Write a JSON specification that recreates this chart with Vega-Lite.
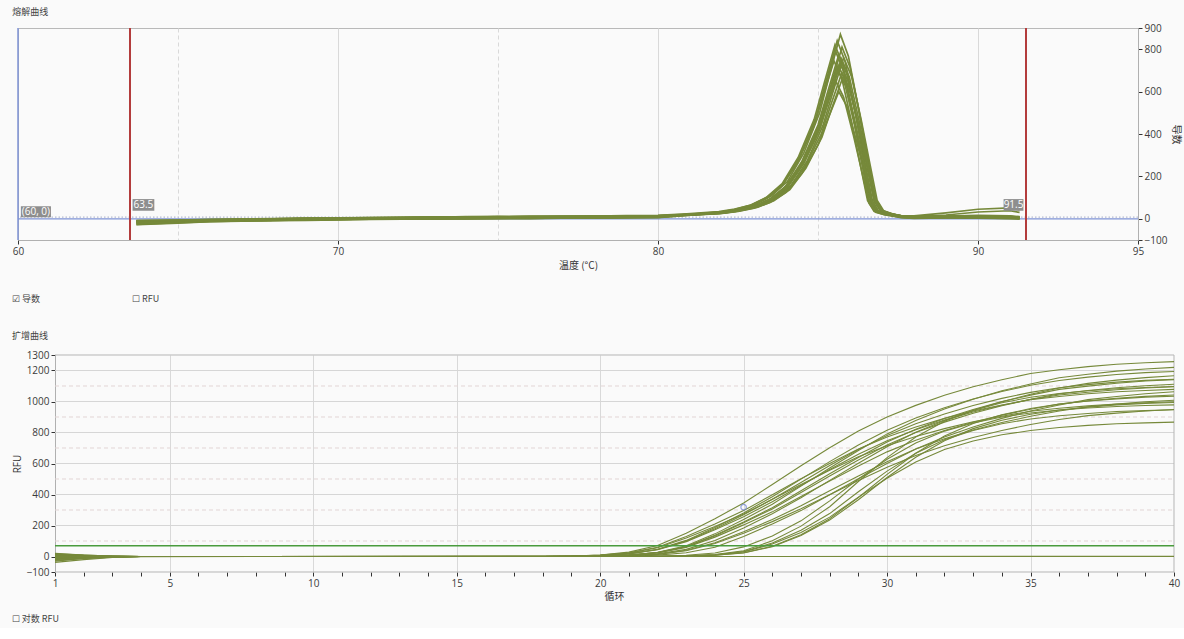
{
 "$schema": "https://vega.github.io/schema/vega-lite/v6.json",
 "background": "#fafafa",
 "padding": {"left": 11, "top": 7, "right": 2, "bottom": 4},
 "config": {
  "view": {"stroke": "#b9b9b9", "strokeWidth": 1},
  "axis": {"labelFont": "Open Sans", "labelFontSize": 10, "labelColor": "#3a3a3a", "titleFont": "Noto Sans CJK SC", "titleFontSize": 10, "titleFontWeight": "normal", "titleColor": "#333333", "domainColor": "#b0b0b0", "tickColor": "#333333", "tickSize": 4, "labelPadding": 2, "labelFlush": false, "labelOverlap": false, "gridColor": "#d9d9d9"},
  "title": {"font": "Noto Sans CJK SC", "fontSize": 9, "fontWeight": "normal", "color": "#444444", "subtitleFont": "Noto Sans CJK SC", "subtitleFontSize": 9, "subtitleColor": "#444444"}
 },
 "datasets": {
  "melt": [
   {"s":"a","t":63.7,"d":-10},{"s":"a","t":65,"d":-7},{"s":"a","t":66,"d":-4},{"s":"a","t":67,"d":-3},{"s":"a","t":68,"d":0},{"s":"a","t":69,"d":2},{"s":"a","t":70,"d":3},{"s":"a","t":71,"d":6},{"s":"a","t":72,"d":5},{"s":"a","t":73,"d":8},{"s":"a","t":74,"d":7},{"s":"a","t":75,"d":10},{"s":"a","t":76,"d":9},{"s":"a","t":77,"d":11},{"s":"a","t":78,"d":12},{"s":"a","t":79,"d":13},{"s":"a","t":80,"d":15},
   {"s":"a","t":81.05,"d":22},{"s":"a","t":82.05,"d":34},{"s":"a","t":82.55,"d":47},{"s":"a","t":83.05,"d":69},{"s":"a","t":83.55,"d":108},{"s":"a","t":84.05,"d":177},{"s":"a","t":84.55,"d":308},{"s":"a","t":85.05,"d":499},{"s":"a","t":85.35,"d":673},{"s":"a","t":85.7,"d":870},{"s":"a","t":85.95,"d":767},{"s":"a","t":86.25,"d":532},{"s":"a","t":86.55,"d":271},{"s":"a","t":86.75,"d":97},{"s":"a","t":86.95,"d":42},{"s":"a","t":87.25,"d":25},
   {"s":"a","t":87.6,"d":14},{"s":"a","t":88,"d":10},{"s":"a","t":89,"d":12},{"s":"a","t":90,"d":14},{"s":"a","t":91,"d":11},{"s":"a","t":91.3,"d":8},

   {"s":"b","t":63.7,"d":-22},{"s":"b","t":65,"d":-15},{"s":"b","t":66,"d":-11},{"s":"b","t":67,"d":-9},{"s":"b","t":68,"d":-7},{"s":"b","t":69,"d":-4},{"s":"b","t":70,"d":-3},{"s":"b","t":71,"d":-1},{"s":"b","t":72,"d":1},{"s":"b","t":73,"d":0},{"s":"b","t":74,"d":3},{"s":"b","t":75,"d":2},{"s":"b","t":76,"d":4},{"s":"b","t":77,"d":5},{"s":"b","t":78,"d":4},{"s":"b","t":79,"d":7},{"s":"b","t":80,"d":8},
   {"s":"b","t":80.95,"d":20},{"s":"b","t":81.95,"d":31},{"s":"b","t":82.45,"d":44},{"s":"b","t":82.95,"d":65},{"s":"b","t":83.45,"d":102},{"s":"b","t":83.95,"d":170},{"s":"b","t":84.45,"d":296},{"s":"b","t":84.95,"d":480},{"s":"b","t":85.25,"d":648},{"s":"b","t":85.6,"d":840},{"s":"b","t":85.85,"d":741},{"s":"b","t":86.15,"d":514},{"s":"b","t":86.45,"d":262},{"s":"b","t":86.65,"d":94},{"s":"b","t":86.85,"d":39},{"s":"b","t":87.15,"d":23},
   {"s":"b","t":87.6,"d":8},{"s":"b","t":88,"d":5},{"s":"b","t":89,"d":7},{"s":"b","t":90,"d":6},{"s":"b","t":91,"d":4},{"s":"b","t":91.3,"d":2},

   {"s":"c","t":63.7,"d":-15},{"s":"c","t":65,"d":-12},{"s":"c","t":66,"d":-7},{"s":"c","t":67,"d":-6},{"s":"c","t":68,"d":-5},{"s":"c","t":69,"d":-1},{"s":"c","t":70,"d":1},{"s":"c","t":71,"d":2},{"s":"c","t":72,"d":4},{"s":"c","t":73,"d":4},{"s":"c","t":74,"d":6},{"s":"c","t":75,"d":5},{"s":"c","t":76,"d":8},{"s":"c","t":77,"d":7},{"s":"c","t":78,"d":9},{"s":"c","t":79,"d":8},{"s":"c","t":80,"d":11},
   {"s":"c","t":81.1,"d":21},{"s":"c","t":82.1,"d":31},{"s":"c","t":82.6,"d":43},{"s":"c","t":83.1,"d":64},{"s":"c","t":83.6,"d":100},{"s":"c","t":84.1,"d":165},{"s":"c","t":84.6,"d":286},{"s":"c","t":85.1,"d":465},{"s":"c","t":85.4,"d":627},{"s":"c","t":85.75,"d":810},{"s":"c","t":86,"d":715},{"s":"c","t":86.3,"d":496},{"s":"c","t":86.6,"d":253},{"s":"c","t":86.8,"d":91},{"s":"c","t":87,"d":39},{"s":"c","t":87.3,"d":23},
   {"s":"c","t":87.6,"d":15},{"s":"c","t":88,"d":14},{"s":"c","t":89,"d":28},{"s":"c","t":90,"d":45},{"s":"c","t":91,"d":52},{"s":"c","t":91.3,"d":42},

   {"s":"d","t":63.7,"d":-8},{"s":"d","t":65,"d":-6},{"s":"d","t":66,"d":-3},{"s":"d","t":67,"d":-1},{"s":"d","t":68,"d":1},{"s":"d","t":69,"d":3},{"s":"d","t":70,"d":5},{"s":"d","t":71,"d":6},{"s":"d","t":72,"d":8},{"s":"d","t":73,"d":9},{"s":"d","t":74,"d":9},{"s":"d","t":75,"d":11},{"s":"d","t":76,"d":12},{"s":"d","t":77,"d":12},{"s":"d","t":78,"d":13},{"s":"d","t":79,"d":15},{"s":"d","t":80,"d":16},
   {"s":"d","t":80.9,"d":23},{"s":"d","t":81.9,"d":34},{"s":"d","t":82.4,"d":46},{"s":"d","t":82.9,"d":65},{"s":"d","t":83.4,"d":101},{"s":"d","t":83.9,"d":164},{"s":"d","t":84.4,"d":283},{"s":"d","t":84.9,"d":456},{"s":"d","t":85.2,"d":614},{"s":"d","t":85.55,"d":790},{"s":"d","t":85.8,"d":697},{"s":"d","t":86.1,"d":484},{"s":"d","t":86.4,"d":247},{"s":"d","t":86.6,"d":89},{"s":"d","t":86.8,"d":40},{"s":"d","t":87.1,"d":24},
   {"s":"d","t":87.6,"d":12},{"s":"d","t":88,"d":9},{"s":"d","t":89,"d":8},{"s":"d","t":90,"d":11},{"s":"d","t":91,"d":9},{"s":"d","t":91.3,"d":6},

   {"s":"e","t":63.7,"d":-28},{"s":"e","t":65,"d":-20},{"s":"e","t":66,"d":-14},{"s":"e","t":67,"d":-11},{"s":"e","t":68,"d":-9},{"s":"e","t":69,"d":-7},{"s":"e","t":70,"d":-5},{"s":"e","t":71,"d":-3},{"s":"e","t":72,"d":-2},{"s":"e","t":73,"d":-1},{"s":"e","t":74,"d":0},{"s":"e","t":75,"d":1},{"s":"e","t":76,"d":1},{"s":"e","t":77,"d":3},{"s":"e","t":78,"d":3},{"s":"e","t":79,"d":5},{"s":"e","t":80,"d":6},
   {"s":"e","t":81,"d":17},{"s":"e","t":82,"d":27},{"s":"e","t":82.5,"d":39},{"s":"e","t":83,"d":58},{"s":"e","t":83.5,"d":93},{"s":"e","t":84,"d":155},{"s":"e","t":84.5,"d":272},{"s":"e","t":85,"d":442},{"s":"e","t":85.3,"d":597},{"s":"e","t":85.65,"d":775},{"s":"e","t":85.9,"d":682},{"s":"e","t":86.2,"d":473},{"s":"e","t":86.5,"d":241},{"s":"e","t":86.7,"d":86},{"s":"e","t":86.9,"d":35},{"s":"e","t":87.2,"d":20},
   {"s":"e","t":87.6,"d":6},{"s":"e","t":88,"d":3},{"s":"e","t":89,"d":5},{"s":"e","t":90,"d":4},{"s":"e","t":91,"d":2},{"s":"e","t":91.3,"d":0},

   {"s":"f","t":63.7,"d":-12},{"s":"f","t":65,"d":-9},{"s":"f","t":66,"d":-8},{"s":"f","t":67,"d":-4},{"s":"f","t":68,"d":-3},{"s":"f","t":69,"d":0},{"s":"f","t":70,"d":2},{"s":"f","t":71,"d":3},{"s":"f","t":72,"d":3},{"s":"f","t":73,"d":6},{"s":"f","t":74,"d":7},{"s":"f","t":75,"d":7},{"s":"f","t":76,"d":9},{"s":"f","t":77,"d":8},{"s":"f","t":78,"d":10},{"s":"f","t":79,"d":11},{"s":"f","t":80,"d":12},
   {"s":"f","t":81.15,"d":21},{"s":"f","t":82.15,"d":31},{"s":"f","t":82.65,"d":42},{"s":"f","t":83.15,"d":61},{"s":"f","t":83.65,"d":96},{"s":"f","t":84.15,"d":156},{"s":"f","t":84.65,"d":270},{"s":"f","t":85.15,"d":438},{"s":"f","t":85.45,"d":590},{"s":"f","t":85.8,"d":760},{"s":"f","t":86.05,"d":671},{"s":"f","t":86.35,"d":466},{"s":"f","t":86.65,"d":238},{"s":"f","t":86.85,"d":86},{"s":"f","t":87.05,"d":38},{"s":"f","t":87.35,"d":22},
   {"s":"f","t":87.6,"d":13},{"s":"f","t":88,"d":10},{"s":"f","t":89,"d":10},{"s":"f","t":90,"d":12},{"s":"f","t":91,"d":10},{"s":"f","t":91.3,"d":7},

   {"s":"g","t":63.7,"d":-17},{"s":"g","t":65,"d":-13},{"s":"g","t":66,"d":-10},{"s":"g","t":67,"d":-8},{"s":"g","t":68,"d":-6},{"s":"g","t":69,"d":-3},{"s":"g","t":70,"d":-2},{"s":"g","t":71,"d":0},{"s":"g","t":72,"d":0},{"s":"g","t":73,"d":2},{"s":"g","t":74,"d":4},{"s":"g","t":75,"d":3},{"s":"g","t":76,"d":5},{"s":"g","t":77,"d":6},{"s":"g","t":78,"d":6},{"s":"g","t":79,"d":8},{"s":"g","t":80,"d":9},
   {"s":"g","t":80.85,"d":19},{"s":"g","t":81.85,"d":29},{"s":"g","t":82.35,"d":40},{"s":"g","t":82.85,"d":58},{"s":"g","t":83.35,"d":92},{"s":"g","t":83.85,"d":152},{"s":"g","t":84.35,"d":263},{"s":"g","t":84.85,"d":427},{"s":"g","t":85.15,"d":576},{"s":"g","t":85.5,"d":745},{"s":"g","t":85.75,"d":658},{"s":"g","t":86.05,"d":457},{"s":"g","t":86.35,"d":234},{"s":"g","t":86.55,"d":85},{"s":"g","t":86.75,"d":36},{"s":"g","t":87.05,"d":21},
   {"s":"g","t":87.6,"d":10},{"s":"g","t":88,"d":9},{"s":"g","t":89,"d":18},{"s":"g","t":90,"d":32},{"s":"g","t":91,"d":38},{"s":"g","t":91.3,"d":30},

   {"s":"h","t":63.7,"d":-11},{"s":"h","t":65,"d":-8},{"s":"h","t":66,"d":-6},{"s":"h","t":67,"d":-5},{"s":"h","t":68,"d":-2},{"s":"h","t":69,"d":1},{"s":"h","t":70,"d":2},{"s":"h","t":71,"d":4},{"s":"h","t":72,"d":5},{"s":"h","t":73,"d":5},{"s":"h","t":74,"d":8},{"s":"h","t":75,"d":8},{"s":"h","t":76,"d":10},{"s":"h","t":77,"d":9},{"s":"h","t":78,"d":11},{"s":"h","t":79,"d":12},{"s":"h","t":80,"d":13},
   {"s":"h","t":81.05,"d":21},{"s":"h","t":82.05,"d":30},{"s":"h","t":82.55,"d":41},{"s":"h","t":83.05,"d":59},{"s":"h","t":83.55,"d":92},{"s":"h","t":84.05,"d":151},{"s":"h","t":84.55,"d":260},{"s":"h","t":85.05,"d":421},{"s":"h","t":85.35,"d":567},{"s":"h","t":85.7,"d":730},{"s":"h","t":85.95,"d":645},{"s":"h","t":86.25,"d":448},{"s":"h","t":86.55,"d":229},{"s":"h","t":86.75,"d":83},{"s":"h","t":86.95,"d":37},{"s":"h","t":87.25,"d":22},
   {"s":"h","t":87.6,"d":11},{"s":"h","t":88,"d":8},{"s":"h","t":89,"d":9},{"s":"h","t":90,"d":8},{"s":"h","t":91,"d":7},{"s":"h","t":91.3,"d":4},

   {"s":"i","t":63.7,"d":-16},{"s":"i","t":65,"d":-11},{"s":"i","t":66,"d":-9},{"s":"i","t":67,"d":-7},{"s":"i","t":68,"d":-5},{"s":"i","t":69,"d":-2},{"s":"i","t":70,"d":-1},{"s":"i","t":71,"d":1},{"s":"i","t":72,"d":2},{"s":"i","t":73,"d":3},{"s":"i","t":74,"d":3},{"s":"i","t":75,"d":5},{"s":"i","t":76,"d":6},{"s":"i","t":77,"d":5},{"s":"i","t":78,"d":8},{"s":"i","t":79,"d":8},{"s":"i","t":80,"d":10},
   {"s":"i","t":80.95,"d":19},{"s":"i","t":81.95,"d":28},{"s":"i","t":82.45,"d":38},{"s":"i","t":82.95,"d":56},{"s":"i","t":83.45,"d":88},{"s":"i","t":83.95,"d":145},{"s":"i","t":84.45,"d":251},{"s":"i","t":84.95,"d":408},{"s":"i","t":85.25,"d":550},{"s":"i","t":85.6,"d":710},{"s":"i","t":85.85,"d":628},{"s":"i","t":86.15,"d":436},{"s":"i","t":86.45,"d":223},{"s":"i","t":86.65,"d":81},{"s":"i","t":86.85,"d":35},{"s":"i","t":87.15,"d":21},
   {"s":"i","t":87.6,"d":9},{"s":"i","t":88,"d":6},{"s":"i","t":89,"d":7},{"s":"i","t":90,"d":9},{"s":"i","t":91,"d":6},{"s":"i","t":91.3,"d":3},

   {"s":"j","t":63.7,"d":-9},{"s":"j","t":65,"d":-7},{"s":"j","t":66,"d":-5},{"s":"j","t":67,"d":-2},{"s":"j","t":68,"d":0},{"s":"j","t":69,"d":2},{"s":"j","t":70,"d":4},{"s":"j","t":71,"d":5},{"s":"j","t":72,"d":7},{"s":"j","t":73,"d":7},{"s":"j","t":74,"d":10},{"s":"j","t":75,"d":9},{"s":"j","t":76,"d":11},{"s":"j","t":77,"d":12},{"s":"j","t":78,"d":12},{"s":"j","t":79,"d":14},{"s":"j","t":80,"d":14},
   {"s":"j","t":81.1,"d":21},{"s":"j","t":82.1,"d":30},{"s":"j","t":82.6,"d":41},{"s":"j","t":83.1,"d":58},{"s":"j","t":83.6,"d":89},{"s":"j","t":84.1,"d":144},{"s":"j","t":84.6,"d":248},{"s":"j","t":85.1,"d":399},{"s":"j","t":85.4,"d":537},{"s":"j","t":85.75,"d":690},{"s":"j","t":86,"d":610},{"s":"j","t":86.3,"d":424},{"s":"j","t":86.6,"d":217},{"s":"j","t":86.8,"d":79},{"s":"j","t":87,"d":35},{"s":"j","t":87.3,"d":21},
   {"s":"j","t":87.6,"d":14},{"s":"j","t":88,"d":11},{"s":"j","t":89,"d":12},{"s":"j","t":90,"d":13},{"s":"j","t":91,"d":10},{"s":"j","t":91.3,"d":8},

   {"s":"k","t":63.7,"d":-26},{"s":"k","t":65,"d":-18},{"s":"k","t":66,"d":-13},{"s":"k","t":67,"d":-10},{"s":"k","t":68,"d":-8},{"s":"k","t":69,"d":-5},{"s":"k","t":70,"d":-4},{"s":"k","t":71,"d":-2},{"s":"k","t":72,"d":-1},{"s":"k","t":73,"d":0},{"s":"k","t":74,"d":1},{"s":"k","t":75,"d":2},{"s":"k","t":76,"d":2},{"s":"k","t":77,"d":4},{"s":"k","t":78,"d":4},{"s":"k","t":79,"d":6},{"s":"k","t":80,"d":7},
   {"s":"k","t":80.9,"d":16},{"s":"k","t":81.9,"d":24},{"s":"k","t":82.4,"d":34},{"s":"k","t":82.9,"d":50},{"s":"k","t":83.4,"d":80},{"s":"k","t":83.9,"d":132},{"s":"k","t":84.4,"d":229},{"s":"k","t":84.9,"d":372},{"s":"k","t":85.2,"d":502},{"s":"k","t":85.55,"d":650},{"s":"k","t":85.8,"d":574},{"s":"k","t":86.1,"d":398},{"s":"k","t":86.4,"d":203},{"s":"k","t":86.6,"d":73},{"s":"k","t":86.8,"d":31},{"s":"k","t":87.1,"d":18},
   {"s":"k","t":87.6,"d":5},{"s":"k","t":88,"d":2},{"s":"k","t":89,"d":4},{"s":"k","t":90,"d":3},{"s":"k","t":91,"d":1},{"s":"k","t":91.3,"d":-1},

   {"s":"l","t":63.7,"d":-13},{"s":"l","t":65,"d":-10},{"s":"l","t":66,"d":-8},{"s":"l","t":67,"d":-5},{"s":"l","t":68,"d":-4},{"s":"l","t":69,"d":-1},{"s":"l","t":70,"d":0},{"s":"l","t":71,"d":3},{"s":"l","t":72,"d":3},{"s":"l","t":73,"d":4},{"s":"l","t":74,"d":6},{"s":"l","t":75,"d":6},{"s":"l","t":76,"d":7},{"s":"l","t":77,"d":8},{"s":"l","t":78,"d":9},{"s":"l","t":79,"d":9},{"s":"l","t":80,"d":11},
   {"s":"l","t":81,"d":18},{"s":"l","t":82,"d":26},{"s":"l","t":82.5,"d":35},{"s":"l","t":83,"d":50},{"s":"l","t":83.5,"d":77},{"s":"l","t":84,"d":125},{"s":"l","t":84.5,"d":215},{"s":"l","t":85,"d":347},{"s":"l","t":85.3,"d":467},{"s":"l","t":85.65,"d":600},{"s":"l","t":85.9,"d":532},{"s":"l","t":86.2,"d":370},{"s":"l","t":86.5,"d":190},{"s":"l","t":86.7,"d":70},{"s":"l","t":86.9,"d":32},{"s":"l","t":87.2,"d":20},
   {"s":"l","t":87.6,"d":10},{"s":"l","t":88,"d":8},{"s":"l","t":89,"d":9},{"s":"l","t":90,"d":10},{"s":"l","t":91,"d":8},{"s":"l","t":91.3,"d":5},

   {"s":"m","t":63.7,"d":-19},{"s":"m","t":65,"d":-14},{"s":"m","t":66,"d":-10},{"s":"m","t":67,"d":-8},{"s":"m","t":68,"d":-6},{"s":"m","t":69,"d":-4},{"s":"m","t":70,"d":-2},{"s":"m","t":71,"d":-1},{"s":"m","t":72,"d":1},{"s":"m","t":73,"d":2},{"s":"m","t":74,"d":2},{"s":"m","t":75,"d":4},{"s":"m","t":76,"d":4},{"s":"m","t":77,"d":6},{"s":"m","t":78,"d":6},{"s":"m","t":79,"d":7},{"s":"m","t":80,"d":9},
   {"s":"m","t":80.88,"d":20},{"s":"m","t":81.88,"d":30},{"s":"m","t":82.38,"d":43},{"s":"m","t":82.88,"d":63},{"s":"m","t":83.38,"d":100},{"s":"m","t":83.88,"d":166},{"s":"m","t":84.38,"d":289},{"s":"m","t":84.88,"d":469},{"s":"m","t":85.18,"d":633},{"s":"m","t":85.53,"d":820},{"s":"m","t":85.78,"d":723},{"s":"m","t":86.08,"d":502},{"s":"m","t":86.38,"d":256},{"s":"m","t":86.58,"d":92},{"s":"m","t":86.78,"d":39},{"s":"m","t":87.08,"d":22},
   {"s":"m","t":87.6,"d":9},{"s":"m","t":88,"d":7},{"s":"m","t":89,"d":6},{"s":"m","t":90,"d":8},{"s":"m","t":91,"d":5},{"s":"m","t":91.3,"d":3},

   {"s":"n","t":63.7,"d":-14},{"s":"n","t":65,"d":-10},{"s":"n","t":66,"d":-6},{"s":"n","t":67,"d":-5},{"s":"n","t":68,"d":-2},{"s":"n","t":69,"d":0},{"s":"n","t":70,"d":1},{"s":"n","t":71,"d":4},{"s":"n","t":72,"d":4},{"s":"n","t":73,"d":6},{"s":"n","t":74,"d":6},{"s":"n","t":75,"d":9},{"s":"n","t":76,"d":8},{"s":"n","t":77,"d":10},{"s":"n","t":78,"d":11},{"s":"n","t":79,"d":11},{"s":"n","t":80,"d":13},
   {"s":"n","t":81.08,"d":21},{"s":"n","t":82.08,"d":31},{"s":"n","t":82.58,"d":42},{"s":"n","t":83.08,"d":61},{"s":"n","t":83.58,"d":95},{"s":"n","t":84.08,"d":155},{"s":"n","t":84.58,"d":269},{"s":"n","t":85.08,"d":435},{"s":"n","t":85.38,"d":586},{"s":"n","t":85.73,"d":755},{"s":"n","t":85.98,"d":669},{"s":"n","t":86.28,"d":465},{"s":"n","t":86.58,"d":239},{"s":"n","t":86.78,"d":88},{"s":"n","t":86.98,"d":38},{"s":"n","t":87.28,"d":23},
   {"s":"n","t":87.6,"d":13},{"s":"n","t":88,"d":11},{"s":"n","t":89,"d":11},{"s":"n","t":90,"d":10},{"s":"n","t":91,"d":9},{"s":"n","t":91.3,"d":6},

   {"s":"o","t":63.7,"d":-20},{"s":"o","t":65,"d":-13},{"s":"o","t":66,"d":-10},{"s":"o","t":67,"d":-9},{"s":"o","t":68,"d":-6},{"s":"o","t":69,"d":-4},{"s":"o","t":70,"d":-3},{"s":"o","t":71,"d":-1},{"s":"o","t":72,"d":0},{"s":"o","t":73,"d":1},{"s":"o","t":74,"d":2},{"s":"o","t":75,"d":3},{"s":"o","t":76,"d":4},{"s":"o","t":77,"d":4},{"s":"o","t":78,"d":6},{"s":"o","t":79,"d":7},{"s":"o","t":80,"d":8},
   {"s":"o","t":80.98,"d":18},{"s":"o","t":81.98,"d":27},{"s":"o","t":82.48,"d":38},{"s":"o","t":82.98,"d":56},{"s":"o","t":83.48,"d":89},{"s":"o","t":83.98,"d":147},{"s":"o","t":84.48,"d":256},{"s":"o","t":84.98,"d":415},{"s":"o","t":85.28,"d":560},{"s":"o","t":85.63,"d":725},{"s":"o","t":85.88,"d":640},{"s":"o","t":86.18,"d":444},{"s":"o","t":86.48,"d":227},{"s":"o","t":86.68,"d":82},{"s":"o","t":86.88,"d":34},{"s":"o","t":87.18,"d":20},
   {"s":"o","t":87.6,"d":8},{"s":"o","t":88,"d":6},{"s":"o","t":89,"d":8},{"s":"o","t":90,"d":7},{"s":"o","t":91,"d":5},{"s":"o","t":91.3,"d":2},

   {"s":"p","t":63.7,"d":-11},{"s":"p","t":65,"d":-9},{"s":"p","t":66,"d":-6},{"s":"p","t":67,"d":-3},{"s":"p","t":68,"d":-1},{"s":"p","t":69,"d":1},{"s":"p","t":70,"d":3},{"s":"p","t":71,"d":5},{"s":"p","t":72,"d":5},{"s":"p","t":73,"d":7},{"s":"p","t":74,"d":8},{"s":"p","t":75,"d":8},{"s":"p","t":76,"d":10},{"s":"p","t":77,"d":11},{"s":"p","t":78,"d":12},{"s":"p","t":79,"d":12},{"s":"p","t":80,"d":14},
   {"s":"p","t":81.12,"d":20},{"s":"p","t":82.12,"d":29},{"s":"p","t":82.62,"d":39},{"s":"p","t":83.12,"d":55},{"s":"p","t":83.62,"d":85},{"s":"p","t":84.12,"d":138},{"s":"p","t":84.62,"d":238},{"s":"p","t":85.12,"d":384},{"s":"p","t":85.42,"d":517},{"s":"p","t":85.77,"d":665},{"s":"p","t":86.02,"d":591},{"s":"p","t":86.32,"d":411},{"s":"p","t":86.62,"d":212},{"s":"p","t":86.82,"d":79},{"s":"p","t":87.02,"d":35},{"s":"p","t":87.32,"d":22},
   {"s":"p","t":87.6,"d":14},{"s":"p","t":88,"d":12},{"s":"p","t":89,"d":13},{"s":"p","t":90,"d":16},{"s":"p","t":91,"d":14},{"s":"p","t":91.3,"d":10}
  ],
  "amp": [
   {"s":"m1","c":1,"r":15},{"s":"m1","c":2,"r":8},{"s":"m1","c":3,"r":2},{"s":"m1","c":4,"r":0},{"s":"m1","c":18,"r":1},{"s":"m1","c":19,"r":3},{"s":"m1","c":20,"r":10},{"s":"m1","c":21,"r":28},{"s":"m1","c":22,"r":71},{"s":"m1","c":23,"r":150},{"s":"m1","c":24,"r":244},{"s":"m1","c":25,"r":345},{"s":"m1","c":26,"r":465},{"s":"m1","c":27,"r":585},{"s":"m1","c":28,"r":701},{"s":"m1","c":29,"r":810},{"s":"m1","c":30,"r":900},{"s":"m1","c":31,"r":975},{"s":"m1","c":32,"r":1040},{"s":"m1","c":33,"r":1095},{"s":"m1","c":34,"r":1140},{"s":"m1","c":35,"r":1181},{"s":"m1","c":36,"r":1205},{"s":"m1","c":37,"r":1225},{"s":"m1","c":38,"r":1240},{"s":"m1","c":39,"r":1250},{"s":"m1","c":40,"r":1257},
   {"s":"m2","c":1,"r":-30},{"s":"m2","c":2,"r":-12},{"s":"m2","c":3,"r":-4},{"s":"m2","c":4,"r":0},{"s":"m2","c":18,"r":1},{"s":"m2","c":19,"r":2},{"s":"m2","c":20,"r":6},{"s":"m2","c":21,"r":18},{"s":"m2","c":22,"r":47},{"s":"m2","c":23,"r":104},{"s":"m2","c":24,"r":187},{"s":"m2","c":25,"r":281},{"s":"m2","c":26,"r":385},{"s":"m2","c":27,"r":499},{"s":"m2","c":28,"r":612},{"s":"m2","c":29,"r":720},{"s":"m2","c":30,"r":815},{"s":"m2","c":31,"r":893},{"s":"m2","c":32,"r":960},{"s":"m2","c":33,"r":1016},{"s":"m2","c":34,"r":1064},{"s":"m2","c":35,"r":1105},{"s":"m2","c":36,"r":1136},{"s":"m2","c":37,"r":1157},{"s":"m2","c":38,"r":1174},{"s":"m2","c":39,"r":1186},{"s":"m2","c":40,"r":1194},
   {"s":"m3","c":1,"r":8},{"s":"m3","c":2,"r":3},{"s":"m3","c":3,"r":1},{"s":"m3","c":4,"r":0},{"s":"m3","c":18,"r":0},{"s":"m3","c":19,"r":1},{"s":"m3","c":20,"r":2},{"s":"m3","c":21,"r":9},{"s":"m3","c":22,"r":25},{"s":"m3","c":23,"r":64},{"s":"m3","c":24,"r":137},{"s":"m3","c":25,"r":223},{"s":"m3","c":26,"r":315},{"s":"m3","c":27,"r":424},{"s":"m3","c":28,"r":534},{"s":"m3","c":29,"r":639},{"s":"m3","c":30,"r":739},{"s":"m3","c":31,"r":821},{"s":"m3","c":32,"r":890},{"s":"m3","c":33,"r":949},{"s":"m3","c":34,"r":999},{"s":"m3","c":35,"r":1041},{"s":"m3","c":36,"r":1078},{"s":"m3","c":37,"r":1099},{"s":"m3","c":38,"r":1118},{"s":"m3","c":39,"r":1132},{"s":"m3","c":40,"r":1141},
   {"s":"m4","c":1,"r":-10},{"s":"m4","c":2,"r":-5},{"s":"m4","c":3,"r":-2},{"s":"m4","c":4,"r":0},{"s":"m4","c":18,"r":1},{"s":"m4","c":19,"r":2},{"s":"m4","c":20,"r":6},{"s":"m4","c":21,"r":17},{"s":"m4","c":22,"r":43},{"s":"m4","c":23,"r":96},{"s":"m4","c":24,"r":172},{"s":"m4","c":25,"r":257},{"s":"m4","c":26,"r":353},{"s":"m4","c":27,"r":458},{"s":"m4","c":28,"r":561},{"s":"m4","c":29,"r":660},{"s":"m4","c":30,"r":747},{"s":"m4","c":31,"r":818},{"s":"m4","c":32,"r":880},{"s":"m4","c":33,"r":932},{"s":"m4","c":34,"r":976},{"s":"m4","c":35,"r":1013},{"s":"m4","c":36,"r":1042},{"s":"m4","c":37,"r":1060},{"s":"m4","c":38,"r":1076},{"s":"m4","c":39,"r":1087},{"s":"m4","c":40,"r":1095},
   {"s":"m5","c":1,"r":12},{"s":"m5","c":2,"r":6},{"s":"m5","c":3,"r":2},{"s":"m5","c":4,"r":0},{"s":"m5","c":18,"r":0},{"s":"m5","c":19,"r":1},{"s":"m5","c":20,"r":2},{"s":"m5","c":21,"r":8},{"s":"m5","c":22,"r":23},{"s":"m5","c":23,"r":59},{"s":"m5","c":24,"r":125},{"s":"m5","c":25,"r":204},{"s":"m5","c":26,"r":288},{"s":"m5","c":27,"r":387},{"s":"m5","c":28,"r":487},{"s":"m5","c":29,"r":584},{"s":"m5","c":30,"r":675},{"s":"m5","c":31,"r":750},{"s":"m5","c":32,"r":813},{"s":"m5","c":33,"r":866},{"s":"m5","c":34,"r":912},{"s":"m5","c":35,"r":950},{"s":"m5","c":36,"r":984},{"s":"m5","c":37,"r":1004},{"s":"m5","c":38,"r":1021},{"s":"m5","c":39,"r":1033},{"s":"m5","c":40,"r":1042},
   {"s":"m6","c":1,"r":-5},{"s":"m6","c":2,"r":-2},{"s":"m6","c":3,"r":-1},{"s":"m6","c":4,"r":0},{"s":"m6","c":18,"r":0},{"s":"m6","c":19,"r":1},{"s":"m6","c":20,"r":2},{"s":"m6","c":21,"r":6},{"s":"m6","c":22,"r":18},{"s":"m6","c":23,"r":46},{"s":"m6","c":24,"r":103},{"s":"m6","c":25,"r":184},{"s":"m6","c":26,"r":276},{"s":"m6","c":27,"r":379},{"s":"m6","c":28,"r":491},{"s":"m6","c":29,"r":602},{"s":"m6","c":30,"r":708},{"s":"m6","c":31,"r":801},{"s":"m6","c":32,"r":878},{"s":"m6","c":33,"r":944},{"s":"m6","c":34,"r":999},{"s":"m6","c":35,"r":1047},{"s":"m6","c":36,"r":1087},{"s":"m6","c":37,"r":1117},{"s":"m6","c":38,"r":1138},{"s":"m6","c":39,"r":1154},{"s":"m6","c":40,"r":1166},
   {"s":"m7","c":1,"r":-38},{"s":"m7","c":2,"r":-20},{"s":"m7","c":3,"r":-6},{"s":"m7","c":4,"r":-1},{"s":"m7","c":18,"r":1},{"s":"m7","c":19,"r":2},{"s":"m7","c":20,"r":8},{"s":"m7","c":21,"r":22},{"s":"m7","c":22,"r":56},{"s":"m7","c":23,"r":119},{"s":"m7","c":24,"r":194},{"s":"m7","c":25,"r":274},{"s":"m7","c":26,"r":369},{"s":"m7","c":27,"r":464},{"s":"m7","c":28,"r":556},{"s":"m7","c":29,"r":643},{"s":"m7","c":30,"r":714},{"s":"m7","c":31,"r":774},{"s":"m7","c":32,"r":825},{"s":"m7","c":33,"r":869},{"s":"m7","c":34,"r":905},{"s":"m7","c":35,"r":937},{"s":"m7","c":36,"r":956},{"s":"m7","c":37,"r":972},{"s":"m7","c":38,"r":984},{"s":"m7","c":39,"r":992},{"s":"m7","c":40,"r":998},
   {"s":"m8","c":1,"r":5},{"s":"m8","c":2,"r":2},{"s":"m8","c":3,"r":0},{"s":"m8","c":4,"r":0},{"s":"m8","c":18,"r":0},{"s":"m8","c":19,"r":1},{"s":"m8","c":20,"r":2},{"s":"m8","c":21,"r":9},{"s":"m8","c":22,"r":25},{"s":"m8","c":23,"r":63},{"s":"m8","c":24,"r":133},{"s":"m8","c":25,"r":217},{"s":"m8","c":26,"r":307},{"s":"m8","c":27,"r":413},{"s":"m8","c":28,"r":520},{"s":"m8","c":29,"r":623},{"s":"m8","c":30,"r":720},{"s":"m8","c":31,"r":800},{"s":"m8","c":32,"r":867},{"s":"m8","c":33,"r":924},{"s":"m8","c":34,"r":973},{"s":"m8","c":35,"r":1014},{"s":"m8","c":36,"r":1049},{"s":"m8","c":37,"r":1071},{"s":"m8","c":38,"r":1089},{"s":"m8","c":39,"r":1102},{"s":"m8","c":40,"r":1111},
   {"s":"m9","c":1,"r":-15},{"s":"m9","c":2,"r":-8},{"s":"m9","c":3,"r":-3},{"s":"m9","c":4,"r":0},{"s":"m9","c":18,"r":0},{"s":"m9","c":19,"r":0},{"s":"m9","c":20,"r":1},{"s":"m9","c":21,"r":5},{"s":"m9","c":22,"r":14},{"s":"m9","c":23,"r":37},{"s":"m9","c":24,"r":84},{"s":"m9","c":25,"r":150},{"s":"m9","c":26,"r":225},{"s":"m9","c":27,"r":308},{"s":"m9","c":28,"r":399},{"s":"m9","c":29,"r":490},{"s":"m9","c":30,"r":576},{"s":"m9","c":31,"r":652},{"s":"m9","c":32,"r":714},{"s":"m9","c":33,"r":768},{"s":"m9","c":34,"r":813},{"s":"m9","c":35,"r":852},{"s":"m9","c":36,"r":884},{"s":"m9","c":37,"r":909},{"s":"m9","c":38,"r":925},{"s":"m9","c":39,"r":939},{"s":"m9","c":40,"r":948},
   {"s":"m10","c":1,"r":10},{"s":"m10","c":2,"r":5},{"s":"m10","c":3,"r":2},{"s":"m10","c":4,"r":0},{"s":"m10","c":18,"r":0},{"s":"m10","c":19,"r":0},{"s":"m10","c":20,"r":1},{"s":"m10","c":21,"r":2},{"s":"m10","c":22,"r":9},{"s":"m10","c":23,"r":24},{"s":"m10","c":24,"r":60},{"s":"m10","c":25,"r":129},{"s":"m10","c":26,"r":210},{"s":"m10","c":27,"r":296},{"s":"m10","c":28,"r":399},{"s":"m10","c":29,"r":501},{"s":"m10","c":30,"r":600},{"s":"m10","c":31,"r":694},{"s":"m10","c":32,"r":771},{"s":"m10","c":33,"r":836},{"s":"m10","c":34,"r":891},{"s":"m10","c":35,"r":939},{"s":"m10","c":36,"r":977},{"s":"m10","c":37,"r":1012},{"s":"m10","c":38,"r":1032},{"s":"m10","c":39,"r":1050},{"s":"m10","c":40,"r":1063},
   {"s":"m11","c":1,"r":-20},{"s":"m11","c":2,"r":-10},{"s":"m11","c":3,"r":-3},{"s":"m11","c":4,"r":0},{"s":"m11","c":18,"r":0},{"s":"m11","c":19,"r":1},{"s":"m11","c":20,"r":2},{"s":"m11","c":21,"r":10},{"s":"m11","c":22,"r":27},{"s":"m11","c":23,"r":69},{"s":"m11","c":24,"r":146},{"s":"m11","c":25,"r":239},{"s":"m11","c":26,"r":337},{"s":"m11","c":27,"r":454},{"s":"m11","c":28,"r":571},{"s":"m11","c":29,"r":684},{"s":"m11","c":30,"r":791},{"s":"m11","c":31,"r":878},{"s":"m11","c":32,"r":952},{"s":"m11","c":33,"r":1015},{"s":"m11","c":34,"r":1069},{"s":"m11","c":35,"r":1113},{"s":"m11","c":36,"r":1153},{"s":"m11","c":37,"r":1176},{"s":"m11","c":38,"r":1196},{"s":"m11","c":39,"r":1210},{"s":"m11","c":40,"r":1220},
   {"s":"m12","c":1,"r":6},{"s":"m12","c":2,"r":3},{"s":"m12","c":3,"r":1},{"s":"m12","c":4,"r":0},{"s":"m12","c":18,"r":0},{"s":"m12","c":19,"r":2},{"s":"m12","c":20,"r":6},{"s":"m12","c":21,"r":17},{"s":"m12","c":22,"r":45},{"s":"m12","c":23,"r":100},{"s":"m12","c":24,"r":179},{"s":"m12","c":25,"r":269},{"s":"m12","c":26,"r":369},{"s":"m12","c":27,"r":478},{"s":"m12","c":28,"r":587},{"s":"m12","c":29,"r":690},{"s":"m12","c":30,"r":781},{"s":"m12","c":31,"r":856},{"s":"m12","c":32,"r":920},{"s":"m12","c":33,"r":974},{"s":"m12","c":34,"r":1020},{"s":"m12","c":35,"r":1059},{"s":"m12","c":36,"r":1089},{"s":"m12","c":37,"r":1109},{"s":"m12","c":38,"r":1125},{"s":"m12","c":39,"r":1136},{"s":"m12","c":40,"r":1144},
   {"s":"m13","c":1,"r":-12},{"s":"m13","c":2,"r":-6},{"s":"m13","c":3,"r":-2},{"s":"m13","c":4,"r":0},{"s":"m13","c":18,"r":0},{"s":"m13","c":19,"r":1},{"s":"m13","c":20,"r":2},{"s":"m13","c":21,"r":5},{"s":"m13","c":22,"r":15},{"s":"m13","c":23,"r":40},{"s":"m13","c":24,"r":89},{"s":"m13","c":25,"r":159},{"s":"m13","c":26,"r":239},{"s":"m13","c":27,"r":327},{"s":"m13","c":28,"r":424},{"s":"m13","c":29,"r":520},{"s":"m13","c":30,"r":612},{"s":"m13","c":31,"r":693},{"s":"m13","c":32,"r":759},{"s":"m13","c":33,"r":816},{"s":"m13","c":34,"r":864},{"s":"m13","c":35,"r":905},{"s":"m13","c":36,"r":939},{"s":"m13","c":37,"r":966},{"s":"m13","c":38,"r":983},{"s":"m13","c":39,"r":998},{"s":"m13","c":40,"r":1008},
   {"s":"m14","c":1,"r":20},{"s":"m14","c":2,"r":9},{"s":"m14","c":3,"r":3},{"s":"m14","c":4,"r":0},{"s":"m14","c":18,"r":1},{"s":"m14","c":19,"r":2},{"s":"m14","c":20,"r":9},{"s":"m14","c":21,"r":24},{"s":"m14","c":22,"r":60},{"s":"m14","c":23,"r":129},{"s":"m14","c":24,"r":210},{"s":"m14","c":25,"r":296},{"s":"m14","c":26,"r":399},{"s":"m14","c":27,"r":501},{"s":"m14","c":28,"r":600},{"s":"m14","c":29,"r":694},{"s":"m14","c":30,"r":771},{"s":"m14","c":31,"r":836},{"s":"m14","c":32,"r":891},{"s":"m14","c":33,"r":939},{"s":"m14","c":34,"r":977},{"s":"m14","c":35,"r":1012},{"s":"m14","c":36,"r":1032},{"s":"m14","c":37,"r":1050},{"s":"m14","c":38,"r":1063},{"s":"m14","c":39,"r":1071},{"s":"m14","c":40,"r":1078},
   {"s":"l1","c":1,"r":3},{"s":"l1","c":2,"r":1},{"s":"l1","c":3,"r":0},{"s":"l1","c":4,"r":0},{"s":"l1","c":18,"r":0},{"s":"l1","c":19,"r":0},{"s":"l1","c":20,"r":0},{"s":"l1","c":21,"r":0},{"s":"l1","c":22,"r":1},{"s":"l1","c":23,"r":4},{"s":"l1","c":24,"r":13},{"s":"l1","c":25,"r":37},{"s":"l1","c":26,"r":101},{"s":"l1","c":27,"r":196},{"s":"l1","c":28,"r":321},{"s":"l1","c":29,"r":484},{"s":"l1","c":30,"r":638},{"s":"l1","c":31,"r":771},{"s":"l1","c":32,"r":872},{"s":"l1","c":33,"r":942},{"s":"l1","c":34,"r":992},{"s":"l1","c":35,"r":1027},{"s":"l1","c":36,"r":1052},{"s":"l1","c":37,"r":1069},{"s":"l1","c":38,"r":1082},{"s":"l1","c":39,"r":1090},{"s":"l1","c":40,"r":1097},
   {"s":"l2","c":1,"r":-8},{"s":"l2","c":2,"r":-4},{"s":"l2","c":3,"r":-1},{"s":"l2","c":4,"r":0},{"s":"l2","c":18,"r":0},{"s":"l2","c":19,"r":0},{"s":"l2","c":20,"r":0},{"s":"l2","c":21,"r":0},{"s":"l2","c":22,"r":0},{"s":"l2","c":23,"r":2},{"s":"l2","c":24,"r":8},{"s":"l2","c":25,"r":23},{"s":"l2","c":26,"r":63},{"s":"l2","c":27,"r":135},{"s":"l2","c":28,"r":235},{"s":"l2","c":29,"r":366},{"s":"l2","c":30,"r":510},{"s":"l2","c":31,"r":640},{"s":"l2","c":32,"r":747},{"s":"l2","c":33,"r":825},{"s":"l2","c":34,"r":879},{"s":"l2","c":35,"r":918},{"s":"l2","c":36,"r":945},{"s":"l2","c":37,"r":964},{"s":"l2","c":38,"r":978},{"s":"l2","c":39,"r":988},{"s":"l2","c":40,"r":994},
   {"s":"l3","c":1,"r":18},{"s":"l3","c":2,"r":10},{"s":"l3","c":3,"r":3},{"s":"l3","c":4,"r":0},{"s":"l3","c":18,"r":0},{"s":"l3","c":19,"r":0},{"s":"l3","c":20,"r":0},{"s":"l3","c":21,"r":0},{"s":"l3","c":22,"r":1},{"s":"l3","c":23,"r":4},{"s":"l3","c":24,"r":11},{"s":"l3","c":25,"r":32},{"s":"l3","c":26,"r":87},{"s":"l3","c":27,"r":169},{"s":"l3","c":28,"r":277},{"s":"l3","c":29,"r":418},{"s":"l3","c":30,"r":551},{"s":"l3","c":31,"r":666},{"s":"l3","c":32,"r":753},{"s":"l3","c":33,"r":813},{"s":"l3","c":34,"r":857},{"s":"l3","c":35,"r":887},{"s":"l3","c":36,"r":908},{"s":"l3","c":37,"r":923},{"s":"l3","c":38,"r":935},{"s":"l3","c":39,"r":941},{"s":"l3","c":40,"r":947},
   {"s":"l4","c":1,"r":-25},{"s":"l4","c":2,"r":-12},{"s":"l4","c":3,"r":-4},{"s":"l4","c":4,"r":0},{"s":"l4","c":18,"r":0},{"s":"l4","c":19,"r":0},{"s":"l4","c":20,"r":0},{"s":"l4","c":21,"r":0},{"s":"l4","c":22,"r":1},{"s":"l4","c":23,"r":3},{"s":"l4","c":24,"r":10},{"s":"l4","c":25,"r":30},{"s":"l4","c":26,"r":80},{"s":"l4","c":27,"r":155},{"s":"l4","c":28,"r":254},{"s":"l4","c":29,"r":383},{"s":"l4","c":30,"r":505},{"s":"l4","c":31,"r":610},{"s":"l4","c":32,"r":690},{"s":"l4","c":33,"r":745},{"s":"l4","c":34,"r":785},{"s":"l4","c":35,"r":813},{"s":"l4","c":36,"r":832},{"s":"l4","c":37,"r":846},{"s":"l4","c":38,"r":856},{"s":"l4","c":39,"r":862},{"s":"l4","c":40,"r":867},
   {"s":"l5","c":1,"r":0},{"s":"l5","c":2,"r":0},{"s":"l5","c":3,"r":0},{"s":"l5","c":4,"r":0},{"s":"l5","c":18,"r":0},{"s":"l5","c":19,"r":0},{"s":"l5","c":20,"r":0},{"s":"l5","c":21,"r":0},{"s":"l5","c":22,"r":0},{"s":"l5","c":23,"r":2},{"s":"l5","c":24,"r":8},{"s":"l5","c":25,"r":24},{"s":"l5","c":26,"r":66},{"s":"l5","c":27,"r":140},{"s":"l5","c":28,"r":244},{"s":"l5","c":29,"r":381},{"s":"l5","c":30,"r":530},{"s":"l5","c":31,"r":666},{"s":"l5","c":32,"r":777},{"s":"l5","c":33,"r":858},{"s":"l5","c":34,"r":914},{"s":"l5","c":35,"r":955},{"s":"l5","c":36,"r":983},{"s":"l5","c":37,"r":1003},{"s":"l5","c":38,"r":1017},{"s":"l5","c":39,"r":1028},{"s":"l5","c":40,"r":1034},
   {"s":"l6","c":1,"r":-18},{"s":"l6","c":2,"r":-9},{"s":"l6","c":3,"r":-3},{"s":"l6","c":4,"r":0},{"s":"l6","c":18,"r":0},{"s":"l6","c":19,"r":0},{"s":"l6","c":20,"r":0},{"s":"l6","c":21,"r":0},{"s":"l6","c":22,"r":2},{"s":"l6","c":23,"r":8},{"s":"l6","c":24,"r":23},{"s":"l6","c":25,"r":62},{"s":"l6","c":26,"r":132},{"s":"l6","c":27,"r":230},{"s":"l6","c":28,"r":359},{"s":"l6","c":29,"r":500},{"s":"l6","c":30,"r":627},{"s":"l6","c":31,"r":732},{"s":"l6","c":32,"r":809},{"s":"l6","c":33,"r":861},{"s":"l6","c":34,"r":900},{"s":"l6","c":35,"r":926},{"s":"l6","c":36,"r":945},{"s":"l6","c":37,"r":958},{"s":"l6","c":38,"r":968},{"s":"l6","c":39,"r":974},{"s":"l6","c":40,"r":978},
   {"s":"n1","c":1,"r":-3},{"s":"n1","c":2,"r":-1},{"s":"n1","c":3,"r":0},{"s":"n1","c":4,"r":0},{"s":"n1","c":18,"r":0},{"s":"n1","c":40,"r":1}
  ]
 },
 "title": {"text": "☐ 对数 RFU", "orient": "bottom", "anchor": "start", "frame": "bounds", "offset": 14},
 "spacing": 24,
 "vconcat": [
  {
   "width": 1120,
   "height": 212,
   "title": {"text": "熔解曲线", "anchor": "start", "frame": "bounds", "offset": 6},
   "layer": [
    {"data": {"values": [{"d": 8}]}, "mark": {"type": "rule", "color": "#a3abc6", "strokeDash": [1.5, 2], "strokeWidth": 1}, "encoding": {"y": {"field": "d", "type": "quantitative"}}},
    {"data": {"values": [{"d": 0}]}, "mark": {"type": "rule", "color": "#7f93d6", "strokeWidth": 1.2}, "encoding": {"y": {"field": "d", "type": "quantitative"}}},
    {
     "data": {"name": "melt"},
     "mark": {"type": "line", "color": "#76893a", "strokeWidth": 1.7, "clip": true},
     "encoding": {
      "x": {"field": "t", "type": "quantitative", "scale": {"domain": [60, 95], "nice": false, "zero": false},
            "axis": {"title": "温度 (°C)", "titlePadding": 4, "format": "d", "labelOverlap": false, "tickCount": 100, "values": [60, 65, 70, 75, 80, 85, 90, 95],
                     "labelExpr": "datum.value % 10 === 0 || datum.value === 95 ? datum.label : ''",
                     "grid": true,
                     "gridDash": {"condition": {"test": "datum.value % 10 !== 0", "value": [4, 3]}, "value": []},
                     "gridOpacity": {"condition": {"test": "datum.value === 60 || datum.value === 95", "value": 0}, "value": 1},
                     "tickOpacity": {"condition": {"test": "datum.value % 10 === 0 || datum.value === 95", "value": 1}, "value": 0}}},
      "y": {"field": "d", "type": "quantitative", "scale": {"domain": [-100, 900], "nice": false, "zero": false},
            "axis": {"orient": "right", "title": "导数", "titlePadding": 4, "format": "d", "labelOverlap": false, "tickCount": 100, "grid": false, "values": [-100, 0, 200, 400, 600, 800, 900]}},
      "detail": {"field": "s", "type": "nominal"}
     }
    },
    {"data": {"values": [{"t": 60}]}, "mark": {"type": "rule", "color": "#7f93d6", "strokeWidth": 1.5}, "encoding": {"x": {"field": "t", "type": "quantitative"}}},
    {"data": {"values": [{"t": 63.5}, {"t": 91.5}]}, "mark": {"type": "rule", "color": "#b33c3c", "strokeWidth": 2}, "encoding": {"x": {"field": "t", "type": "quantitative"}}},
    {"data": {"values": [{"t": 63.58, "t2": 64.26, "d": 38, "d2": 93}, {"t": 90.8, "t2": 91.42, "d": 38, "d2": 93}, {"t": 60.09, "t2": 61.03, "d": 7, "d2": 59}]},
     "mark": {"type": "rect", "color": "#8e8e8e"},
     "encoding": {"x": {"field": "t", "type": "quantitative"}, "x2": {"field": "t2"}, "y": {"field": "d", "type": "quantitative"}, "y2": {"field": "d2"}}},
    {"data": {"values": [{"t": 63.92, "d": 65, "lab": "63.5"}, {"t": 91.11, "d": 65, "lab": "91.5"}, {"t": 60.56, "d": 33, "lab": "(60, 0)"}]},
     "mark": {"type": "text", "color": "#ffffff", "font": "Open Sans", "fontSize": 10, "align": "center", "baseline": "middle"},
     "encoding": {"x": {"field": "t", "type": "quantitative"}, "y": {"field": "d", "type": "quantitative"}, "text": {"field": "lab"}}}
   ]
  },
  {
   "width": 1156,
   "height": 217,
   "view": {"stroke": null},
   "title": {"text": "☑ 导数　　　　　　　　　　 ☐ RFU", "subtitle": "扩增曲线", "anchor": "start", "frame": "bounds", "offset": 9, "subtitlePadding": 28},
   "layer": [
    {"data": {"values": [{"r": 0}, {"r": 200}, {"r": 400}, {"r": 600}, {"r": 800}, {"r": 1000}, {"r": 1200}]},
     "mark": {"type": "rule", "color": "#d6d6d6", "strokeWidth": 1},
     "encoding": {"x": {"datum": 1, "type": "quantitative"}, "x2": {"datum": 40}, "y": {"field": "r", "type": "quantitative"}}},
    {"data": {"values": [{"r": 100}, {"r": 300}, {"r": 500}, {"r": 700}, {"r": 900}, {"r": 1100}]},
     "mark": {"type": "rule", "color": "#e2d5d5", "strokeWidth": 1, "strokeDash": [4, 3]},
     "encoding": {"x": {"datum": 1, "type": "quantitative"}, "x2": {"datum": 40}, "y": {"field": "r", "type": "quantitative"}}},
    {"data": {"values": [{"r": 1300}, {"r": -100}]},
     "mark": {"type": "rule", "color": "#b5b5b5", "strokeWidth": 1},
     "encoding": {"x": {"datum": 1, "type": "quantitative"}, "x2": {"datum": 40}, "y": {"field": "r", "type": "quantitative"}}},
    {"data": {"values": [{"c": 40}]},
     "mark": {"type": "rule", "color": "#b5b5b5", "strokeWidth": 1},
     "encoding": {"x": {"field": "c", "type": "quantitative"}, "y": {"datum": -100, "type": "quantitative"}, "y2": {"datum": 1300}}},
    {
     "data": {"name": "amp"},
     "mark": {"type": "line", "color": "#76893a", "strokeWidth": 1.1, "clip": true},
     "encoding": {
      "x": {"field": "c", "type": "quantitative", "scale": {"domain": [-0.2895, 40], "nice": false, "zero": false},
            "axis": {"title": "循环", "titlePadding": 3, "titleX": 596, "format": "d", "labelOverlap": false, "tickCount": 100, "domain": false,
                     "values": [1,2,3,4,5,6,7,8,9,10,11,12,13,14,15,16,17,18,19,20,21,22,23,24,25,26,27,28,29,30,31,32,33,34,35,36,37,38,39,40],
                     "labelExpr": "datum.value === 1 || datum.value % 5 === 0 ? datum.label : ''",
                     "grid": true,
                     "gridOpacity": {"condition": {"test": "datum.value % 5 === 0 && datum.value < 40", "value": 1}, "value": 0}}},
      "y": {"field": "r", "type": "quantitative", "scale": {"domain": [-100, 1300], "nice": false, "zero": false},
            "axis": {"title": "RFU", "titleFont": "Open Sans", "titlePadding": 3, "minExtent": 30, "maxExtent": 30, "offset": -37, "format": "d", "labelOverlap": false, "tickCount": 100, "grid": false,
                     "values": [-100, 0, 200, 400, 600, 800, 1000, 1200, 1300]}},
      "detail": {"field": "s", "type": "nominal"}
     }
    },
    {"data": {"values": [{"r": 70}]}, "mark": {"type": "rule", "color": "#4a9b3d", "strokeWidth": 1.5},
     "encoding": {"x": {"datum": 1, "type": "quantitative"}, "x2": {"datum": 40}, "y": {"field": "r", "type": "quantitative"}}},
    {"data": {"values": [{"c": 25, "r": 318}]}, "mark": {"type": "point", "shape": "circle", "filled": false, "color": "#6a7fd0", "size": 30, "strokeWidth": 1.2}, "encoding": {"x": {"field": "c", "type": "quantitative"}, "y": {"field": "r", "type": "quantitative"}}}
   ]
  }
 ]
}
